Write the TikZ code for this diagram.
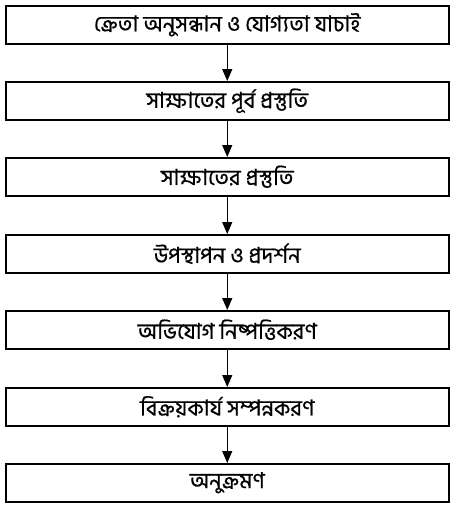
\documentclass[tikz,border=0pt]{standalone}
\usepackage{fontspec}
\newfontfamily\bnfont[Script=Bengali,FakeBold=0.6]{Hind Siliguri}
\usetikzlibrary{arrows.meta}
\begin{document}
\begin{tikzpicture}[x=1pt,y=-1pt,
  stepbox/.style={draw=black,line width=1.5pt,minimum width=443pt,minimum height=38pt,inner sep=0pt,font=\bnfont\fontsize{22}{26}\selectfont,anchor=north west},
  flow/.style={line width=1.2pt,-{Triangle[length=12pt,width=10pt]}}]
\useasboundingbox (0,0) rectangle (452,506);
\node[stepbox] (b1) at (5,5) {ক্রেতা অনুসন্ধান ও যোগ্যতা যাচাই};
\node[stepbox] (b2) at (5,81) {সাক্ষাতের পূর্ব প্রস্তুতি};
\node[stepbox] (b3) at (5,157) {সাক্ষাতের প্রস্তুতি};
\node[stepbox] (b4) at (5,234) {উপস্থাপন ও প্রদর্শন};
\node[stepbox] (b5) at (5,310) {অভিযোগ নিষ্পত্তিকরণ};
\node[stepbox] (b6) at (5,387) {বিক্রয়কার্য সম্পন্নকরণ};
\node[stepbox] (b7) at (5,463) {অনুক্রমণ};
\foreach \a/\b in {b1/b2,b2/b3,b3/b4,b4/b5,b5/b6,b6/b7}
  \draw[flow] (\a.south) -- (\b.north);
\end{tikzpicture}
\end{document}
